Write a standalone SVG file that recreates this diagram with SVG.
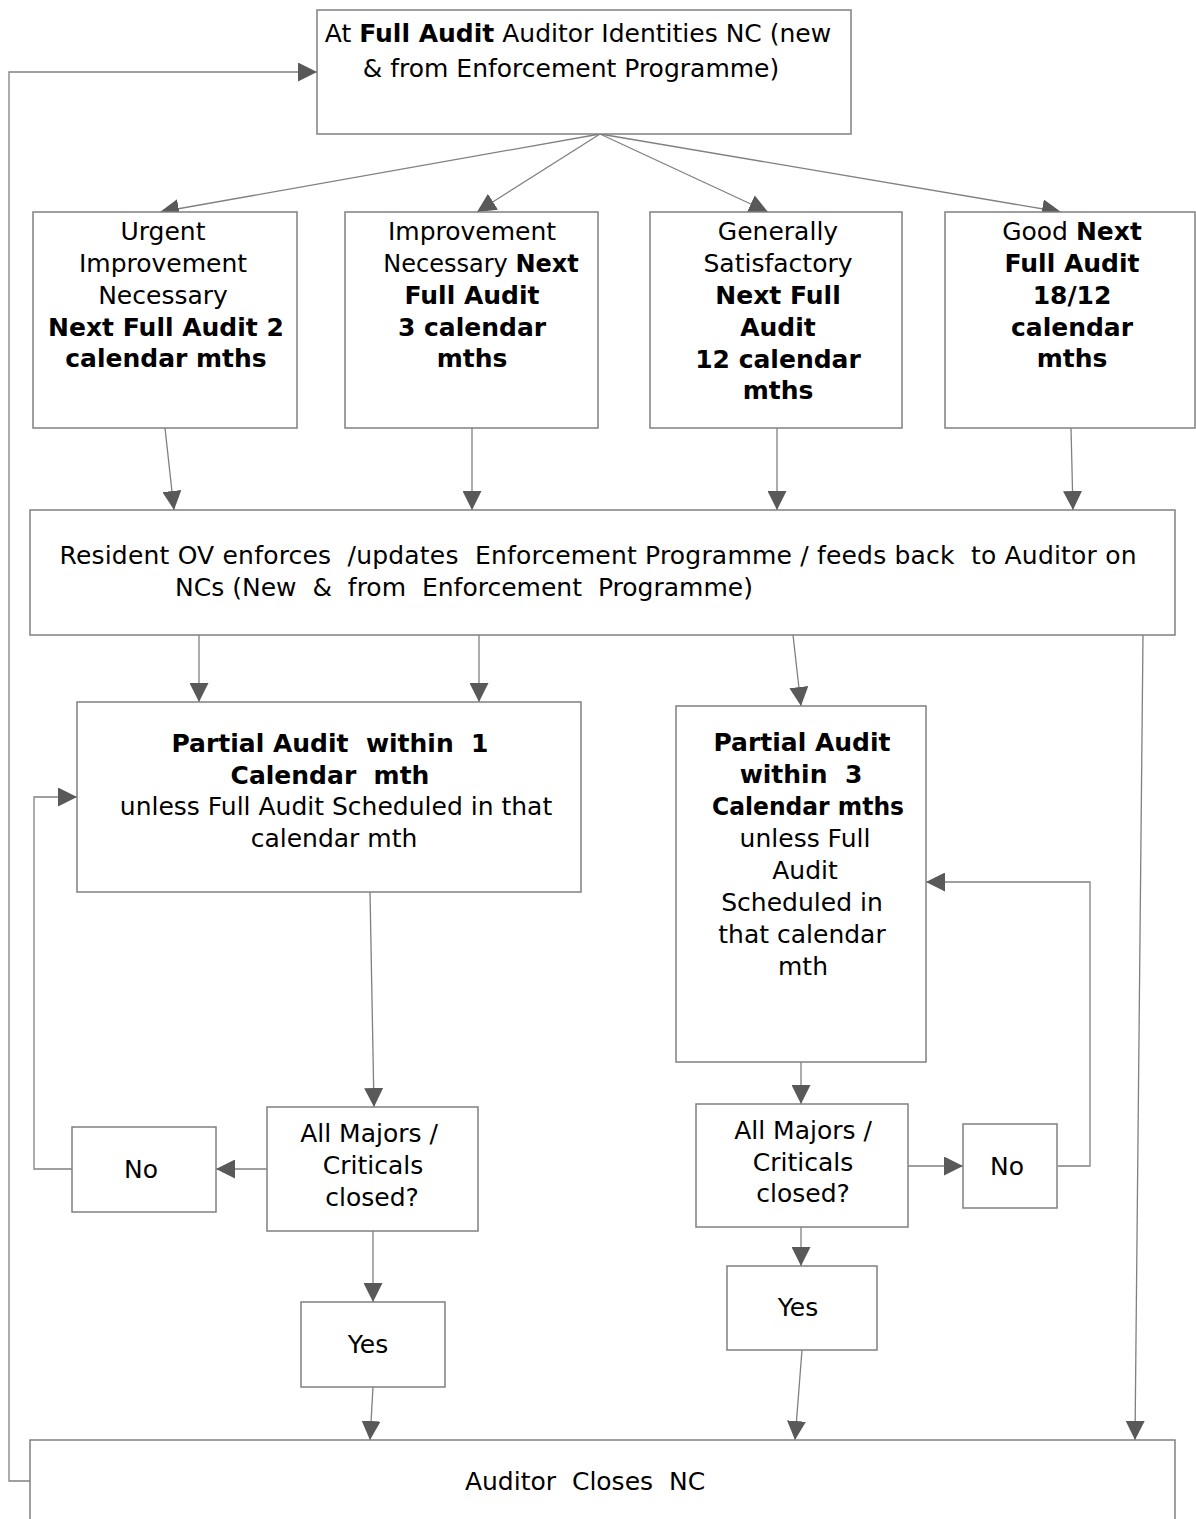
<svg xmlns="http://www.w3.org/2000/svg" width="1196" height="1519" viewBox="0 0 1196 1519">
<defs>
<marker id="ah" markerUnits="userSpaceOnUse" markerWidth="19" markerHeight="19" refX="19" refY="9.5" orient="auto">
<path d="M0,0 L19,9.5 L0,19 z" fill="#595959"/>
</marker>
<style>
.box{fill:#ffffff;stroke:#808080;stroke-width:1.5}
.c{fill:none;stroke:#808080;stroke-width:1.3}
.a{marker-end:url(#ah)}
text{font-family:"DejaVu Sans","Liberation Sans",sans-serif;font-size:25px;fill:#000;text-anchor:middle}
.b{font-weight:bold}
</style>
</defs>
<rect width="1196" height="1519" fill="#ffffff"/>
<g id="connectors">
<polyline class="c a" points="600,134 160,212"/>
<polyline class="c a" points="600,134 477,212"/>
<polyline class="c a" points="600,134 768,212"/>
<polyline class="c a" points="600,134 1061,212"/>
<polyline class="c a" points="165,428 174,510"/>
<polyline class="c a" points="472,428 472,510"/>
<polyline class="c a" points="777,428 777,510"/>
<polyline class="c a" points="1071,428 1073,510"/>
<polyline class="c a" points="199,635 199,702"/>
<polyline class="c a" points="479,635 479,702"/>
<polyline class="c a" points="793,635 801,706"/>
<polyline class="c a" points="1143,635 1135,1440"/>
<polyline class="c a" points="370,892 374,1107"/>
<polyline class="c a" points="267,1169 216,1169"/>
<polyline class="c a" points="89,1169 34,1169 34,797 77,797"/>
<polyline class="c a" points="373,1231 373,1302"/>
<polyline class="c a" points="373,1387 370,1440"/>
<polyline class="c a" points="801,1062 801,1104"/>
<polyline class="c a" points="908,1166 963,1166"/>
<polyline class="c a" points="1058,1166 1090,1166 1090,882 926,882"/>
<polyline class="c a" points="801,1227 801,1266"/>
<polyline class="c a" points="802,1350 795,1440"/>
<polyline class="c a" points="30,1481 9,1481 9,72 317,72"/>
</g>
<g id="n_top">
<rect class="box" x="317" y="10" width="534" height="124"/>
<text x="578" y="42">At <tspan class="b">Full Audit</tspan> Auditor Identities NC (new</text>
<text x="571" y="77">&amp; from Enforcement Programme)</text>
</g>
<g id="n_urgent">
<rect class="box" x="33" y="212" width="264" height="216"/>
<text x="163" y="240">Urgent</text>
<text x="163" y="272">Improvement</text>
<text x="163" y="304">Necessary</text>
<text x="166" y="336" class="b">Next Full Audit 2</text>
<text x="166" y="367" class="b">calendar mths</text>
</g>
<g id="n_improve">
<rect class="box" x="345" y="212" width="253" height="216"/>
<text x="472" y="240">Improvement</text>
<text x="481" y="272" style="font-size:24px">Necessary <tspan class="b">Next</tspan></text>
<text x="472" y="304" class="b">Full Audit</text>
<text x="472" y="336" class="b">3 calendar</text>
<text x="472" y="367" class="b">mths</text>
</g>
<g id="n_general">
<rect class="box" x="650" y="212" width="252" height="216"/>
<text x="778" y="240">Generally</text>
<text x="778" y="272">Satisfactory</text>
<text x="778" y="304" class="b">Next Full</text>
<text x="778" y="336" class="b">Audit</text>
<text x="778" y="368" class="b">12 calendar</text>
<text x="778" y="399" class="b">mths</text>
</g>
<g id="n_good">
<rect class="box" x="945" y="212" width="250" height="216"/>
<text x="1072" y="240">Good <tspan class="b">Next</tspan></text>
<text x="1072" y="272" class="b">Full Audit</text>
<text x="1072" y="304" class="b">18/12</text>
<text x="1072" y="336" class="b">calendar</text>
<text x="1072" y="367" class="b">mths</text>
</g>
<g id="n_resident">
<rect class="box" x="30" y="510" width="1145" height="125"/>
<text x="598" y="564" xml:space="preserve" textLength="1077" lengthAdjust="spacing">Resident OV enforces  /updates  Enforcement Programme / feeds back  to Auditor on</text>
<text x="464" y="596" xml:space="preserve" textLength="578" lengthAdjust="spacing">NCs (New  &amp;  from  Enforcement  Programme)</text>
</g>
<g id="n_partial1">
<rect class="box" x="77" y="702" width="504" height="190"/>
<text x="330" y="752" class="b" xml:space="preserve">Partial Audit  within  1</text>
<text x="330" y="784" class="b" xml:space="preserve">Calendar  mth</text>
<text x="336" y="815">unless Full Audit Scheduled in that</text>
<text x="334" y="847">calendar mth</text>
</g>
<g id="n_partial3">
<rect class="box" x="676" y="706" width="250" height="356"/>
<text x="802" y="751" class="b">Partial Audit</text>
<text x="801" y="783" class="b" xml:space="preserve">within  3</text>
<text x="808" y="815" class="b" textLength="192" lengthAdjust="spacingAndGlyphs">Calendar mths</text>
<text x="805" y="847">unless Full</text>
<text x="805" y="879">Audit</text>
<text x="802" y="911">Scheduled in</text>
<text x="802" y="943">that calendar</text>
<text x="803" y="975">mth</text>
</g>
<g id="n_dec1">
<rect class="box" x="267" y="1107" width="211" height="124"/>
<text x="369" y="1142">All Majors /</text>
<text x="373" y="1174">Criticals</text>
<text x="372" y="1206">closed?</text>
</g>
<g id="n_no1">
<rect class="box" x="72" y="1127" width="144" height="85"/>
<text x="141" y="1178">No</text>
</g>
<g id="n_yes1">
<rect class="box" x="301" y="1302" width="144" height="85"/>
<text x="368" y="1353">Yes</text>
</g>
<g id="n_dec2">
<rect class="box" x="696" y="1104" width="212" height="123"/>
<text x="803" y="1139">All Majors /</text>
<text x="803" y="1171">Criticals</text>
<text x="803" y="1202">closed?</text>
</g>
<g id="n_no2">
<rect class="box" x="963" y="1124" width="94" height="84"/>
<text x="1007" y="1175">No</text>
</g>
<g id="n_yes2">
<rect class="box" x="727" y="1266" width="150" height="84"/>
<text x="798" y="1316">Yes</text>
</g>
<g id="n_closes">
<rect class="box" x="30" y="1440" width="1145" height="100"/>
<text x="585" y="1490" xml:space="preserve">Auditor  Closes  NC</text>
</g>
</svg>
